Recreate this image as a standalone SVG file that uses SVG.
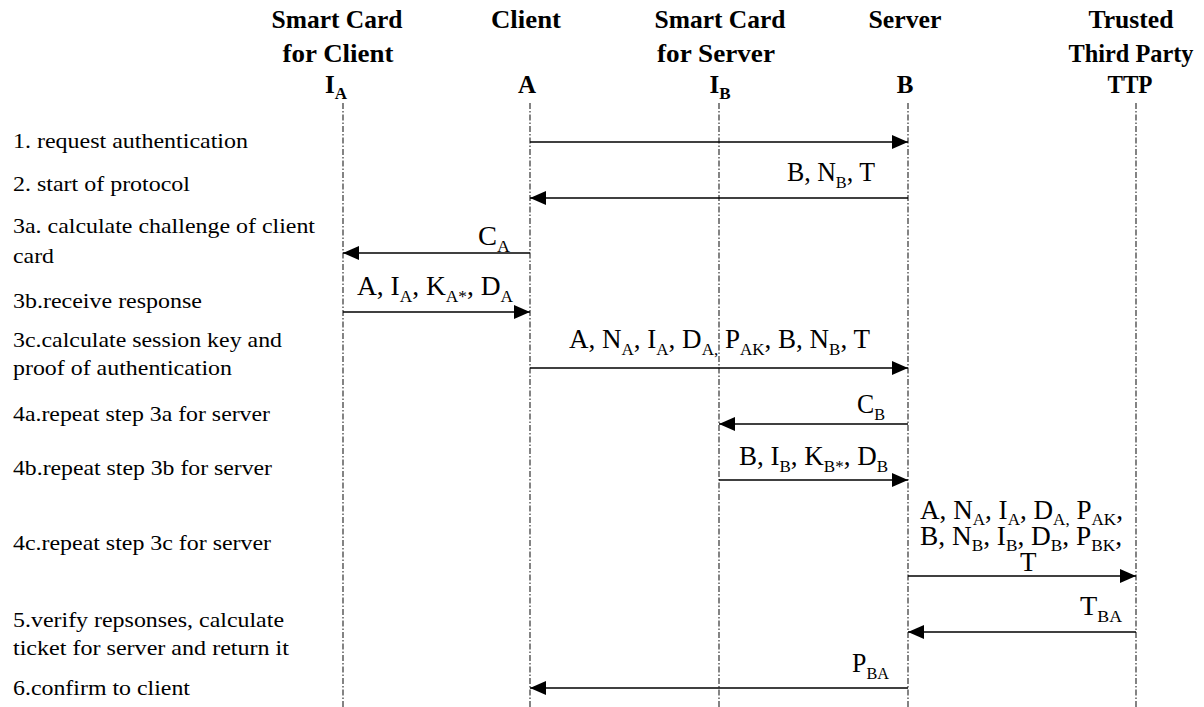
<svg xmlns="http://www.w3.org/2000/svg" width="1204" height="707" viewBox="0 0 1204 707">
<style>
text{font-family:"Liberation Serif","Times New Roman",serif;fill:#000}
.hd{font-weight:bold;font-size:25px;text-anchor:middle}
.hs{font-size:17px}
.lb{font-size:21px}
.ms{font-size:27px}
.sb{font-size:17px}
.life{stroke:#333;stroke-width:1.2;stroke-dasharray:6 2 1.5 2;fill:none}
.msg{stroke:#000;stroke-width:1.5;fill:none;marker-end:url(#ah)}
</style>
<defs>
<marker id="ah" markerUnits="userSpaceOnUse" markerWidth="16" markerHeight="14" refX="16" refY="7" orient="auto"><path d="M0,0 L16,7 L0,14 Z" fill="#000"/></marker>
</defs>
<rect width="1204" height="707" fill="#fff"/>

<g id="node-IA">
<text class="hd" x="337" y="28" textLength="131" lengthAdjust="spacingAndGlyphs">Smart Card</text>
<text class="hd" x="338" y="62" textLength="111" lengthAdjust="spacingAndGlyphs">for Client</text>
<text class="hd" x="336" y="93">I<tspan class="hs" dy="6">A</tspan></text>
<line class="life" x1="343" y1="103" x2="343" y2="707"/>
</g>
<g id="node-A">
<text class="hd" x="526" y="28" textLength="70" lengthAdjust="spacingAndGlyphs">Client</text>
<text class="hd" x="527" y="93">A</text>
<line class="life" x1="530" y1="103" x2="530" y2="707"/>
</g>
<g id="node-IB">
<text class="hd" x="720" y="28" textLength="131" lengthAdjust="spacingAndGlyphs">Smart Card</text>
<text class="hd" x="716" y="62" textLength="118" lengthAdjust="spacingAndGlyphs">for Server</text>
<text class="hd" x="720" y="93">I<tspan class="hs" dy="6">B</tspan></text>
<line class="life" x1="719" y1="103" x2="719" y2="707"/>
</g>
<g id="node-B">
<text class="hd" x="905" y="28" textLength="73" lengthAdjust="spacingAndGlyphs">Server</text>
<text class="hd" x="905" y="93">B</text>
<line class="life" x1="908" y1="103" x2="908" y2="707"/>
</g>
<g id="node-TTP">
<text class="hd" x="1131" y="28" textLength="85" lengthAdjust="spacingAndGlyphs">Trusted</text>
<text class="hd" x="1131" y="62" textLength="125" lengthAdjust="spacingAndGlyphs">Third Party</text>
<text class="hd" x="1130" y="93" textLength="45" lengthAdjust="spacingAndGlyphs">TTP</text>
<line class="life" x1="1136" y1="103" x2="1136" y2="707"/>
</g>

<g id="steps">
<text class="lb" x="13" y="148" textLength="235" lengthAdjust="spacingAndGlyphs">1. request authentication</text>
<text class="lb" x="13" y="191" textLength="177" lengthAdjust="spacingAndGlyphs">2. start of protocol</text>
<text class="lb" x="13" y="233" textLength="302" lengthAdjust="spacingAndGlyphs">3a. calculate challenge of client</text>
<text class="lb" x="13" y="263" textLength="41" lengthAdjust="spacingAndGlyphs">card</text>
<text class="lb" x="13" y="308" textLength="189" lengthAdjust="spacingAndGlyphs">3b.receive response</text>
<text class="lb" x="13" y="347" textLength="269" lengthAdjust="spacingAndGlyphs">3c.calculate session key and</text>
<text class="lb" x="13" y="375" textLength="219" lengthAdjust="spacingAndGlyphs">proof of authentication</text>
<text class="lb" x="13" y="421" textLength="257" lengthAdjust="spacingAndGlyphs">4a.repeat step 3a for server</text>
<text class="lb" x="13" y="475" textLength="259" lengthAdjust="spacingAndGlyphs">4b.repeat step 3b for server</text>
<text class="lb" x="13" y="550" textLength="258" lengthAdjust="spacingAndGlyphs">4c.repeat step 3c for server</text>
<text class="lb" x="13" y="627" textLength="271" lengthAdjust="spacingAndGlyphs">5.verify repsonses, calculate</text>
<text class="lb" x="13" y="655" textLength="276" lengthAdjust="spacingAndGlyphs">ticket for server and return it</text>
<text class="lb" x="13" y="695" textLength="177" lengthAdjust="spacingAndGlyphs">6.confirm to client</text>
</g>

<g id="connectors">
<line class="msg" x1="530" y1="142" x2="908" y2="142"/>
<line class="msg" x1="908" y1="198" x2="530" y2="198"/>
<line class="msg" x1="530" y1="253" x2="343" y2="253"/>
<line class="msg" x1="343" y1="312" x2="530" y2="312"/>
<line class="msg" x1="530" y1="368" x2="908" y2="368"/>
<line class="msg" x1="908" y1="424" x2="719" y2="424"/>
<line class="msg" x1="719" y1="480" x2="908" y2="480"/>
<line class="msg" x1="908" y1="576" x2="1136" y2="576"/>
<line class="msg" x1="1136" y1="632" x2="908" y2="632"/>
<line class="msg" x1="908" y1="688" x2="530" y2="688"/>

<text class="ms" x="787" y="181" textLength="88" lengthAdjust="spacingAndGlyphs">B, N<tspan class="sb" dy="7">B</tspan><tspan dy="-7">, T</tspan></text>
<text class="ms" x="478" y="245" textLength="32" lengthAdjust="spacingAndGlyphs">C<tspan class="sb" dy="7">A</tspan></text>
<text class="ms" x="357" y="295" textLength="156" lengthAdjust="spacingAndGlyphs">A, I<tspan class="sb" dy="7">A</tspan><tspan dy="-7">, K</tspan><tspan class="sb" dy="7">A*</tspan><tspan dy="-7">, D</tspan><tspan class="sb" dy="7">A</tspan></text>
<text class="ms" x="569" y="348" textLength="301" lengthAdjust="spacingAndGlyphs">A, N<tspan class="sb" dy="7">A</tspan><tspan dy="-7">, I</tspan><tspan class="sb" dy="7">A</tspan><tspan dy="-7">, D</tspan><tspan class="sb" dy="7">A,</tspan><tspan dy="-7"> P</tspan><tspan class="sb" dy="7">AK</tspan><tspan dy="-7">, B, N</tspan><tspan class="sb" dy="7">B</tspan><tspan dy="-7">, T</tspan></text>
<text class="ms" x="857" y="413" textLength="28" lengthAdjust="spacingAndGlyphs">C<tspan class="sb" dy="7">B</tspan></text>
<text class="ms" x="739" y="465" textLength="149" lengthAdjust="spacingAndGlyphs">B, I<tspan class="sb" dy="7">B</tspan><tspan dy="-7">, K</tspan><tspan class="sb" dy="7">B*</tspan><tspan dy="-7">, D</tspan><tspan class="sb" dy="7">B</tspan></text>
<text class="ms" x="920" y="519" textLength="203" lengthAdjust="spacingAndGlyphs">A, N<tspan class="sb" dy="6">A</tspan><tspan dy="-6">, I</tspan><tspan class="sb" dy="6">A</tspan><tspan dy="-6">, D</tspan><tspan class="sb" dy="6">A,</tspan><tspan dy="-6"> P</tspan><tspan class="sb" dy="6">AK</tspan><tspan dy="-6">,</tspan></text>
<text class="ms" x="920" y="545" textLength="202" lengthAdjust="spacingAndGlyphs">B, N<tspan class="sb" dy="6">B</tspan><tspan dy="-6">, I</tspan><tspan class="sb" dy="6">B</tspan><tspan dy="-6">, D</tspan><tspan class="sb" dy="6">B</tspan><tspan dy="-6">, P</tspan><tspan class="sb" dy="6">BK</tspan><tspan dy="-6">,</tspan></text>
<text class="ms" x="1020" y="571">T</text>
<text class="ms" x="1080" y="615" textLength="42" lengthAdjust="spacingAndGlyphs">T<tspan class="sb" dy="7">BA</tspan></text>
<text class="ms" x="852" y="672" textLength="37" lengthAdjust="spacingAndGlyphs">P<tspan class="sb" dy="7">BA</tspan></text>
</g>
</svg>
